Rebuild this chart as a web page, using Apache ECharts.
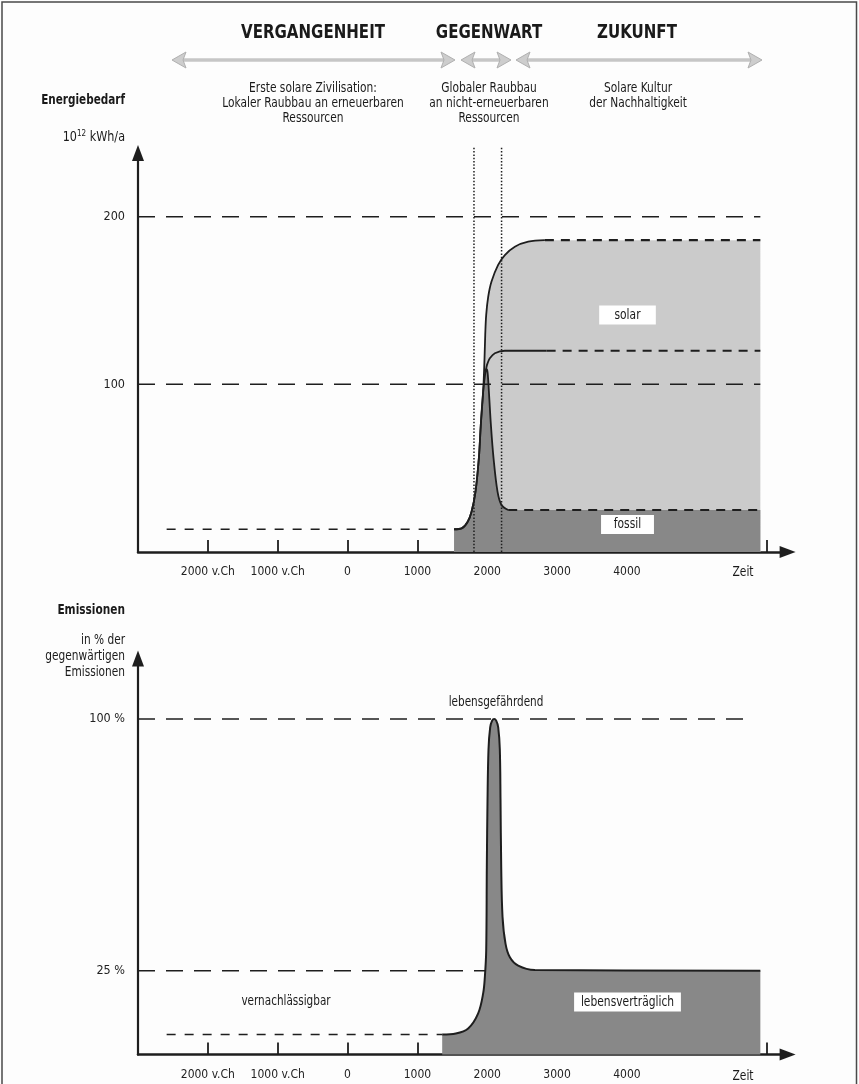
<!DOCTYPE html>
<html><head><meta charset="utf-8">
<script src="https://cdn.jsdelivr.net/npm/echarts@6/dist/echarts.min.js"></script>
<style>html,body{margin:0;padding:0;background:#fff}#c{width:859px;height:1084px}</style>
</head><body><div id="c"></div>
<script>
// ---------------- data ----------------
const xTickValues  = [-2000, -1000, 0, 1000, 2000, 3000, 4000, 5000, 6000];
const xLabelValues = [-2000, -1000, 0, 1000, 2000, 3000, 4000];
const xLabelTexts  = ['2000 v.Ch', '1000 v.Ch', '0', '1000', '2000', '3000', '4000'];
const energyLabelValues = [100, 200];
const emisLabelValues = [25, 100];

// Energiebedarf (10^12 kWh/a)
const totalYears  = [1525, 1640, 1720, 1775, 1832, 1880, 1908, 1942, 1961, 1971, 1985, 2014, 2061, 2156, 2252, 2395, 2586, 2825, 5910];
const totalValues = [13.5, 14.2, 18, 24, 36, 56, 76, 96, 115.5, 129.4, 141.4, 152.3, 161.3, 171.2, 177.1, 182.1, 185.1, 186, 186];
const fossilYears  = [1525, 1640, 1720, 1775, 1832, 1880, 1908, 1942, 1975, 1990, 2005, 2023, 2052, 2090, 2147, 2204, 2300, 5910];
const fossilValues = [13.5, 14.2, 18, 24, 36, 56, 76, 96, 107.5, 109, 107, 96, 76, 56, 36, 28, 25, 25];
const lowYears  = [1978, 1990, 2004, 2037, 2109, 2252, 2850, 5910];
const lowValues = [107.5, 110.5, 112.5, 115.5, 118.5, 120, 120, 120];
const energyGuides = [200, 100];
const energyGuideYears = [-3000, 5910];
const energyBase = 13.5;
const energyBaseYears = [-2590, 1525];
const markerYears = [1810, 2205];
const markerRange = [0, 242];

// Emissionen (% der gegenwärtigen)
const emisYears  = [1355, 1550, 1727, 1870, 1942, 1966, 1985, 1994, 2004, 2018, 2042, 2070, 2099, 2128, 2157, 2180, 2190, 2200, 2219, 2262, 2324, 2443, 2682, 5910];
const emisValues = [6, 6.3, 7.8, 12.3, 18.3, 23.2, 31, 56, 76, 91, 97.5, 99.5, 100, 99.5, 97.5, 91, 76, 56, 41, 33, 29, 26.5, 25.2, 25];
const emisGuides = [100, 25];
const emisGuideEnds = [5750, 1985];
const emisBase = 6;
const emisBaseYears = [-2590, 1355];

// ---------------- helpers ----------------
const FONT = "'Liberation Sans Narrow','Arial Narrow','DejaVu Sans Condensed','Liberation Sans',sans-serif";
const INK = '#1e1e1e';
const pairs = (xs, ys) => xs.map((x, i) => [x, ys[i]]);
const upTo = (xs, ys, lim) => pairs(xs, ys).filter(p => p[0] <= lim);
const lastSeg = (xs, ys) => [[xs[xs.length - 2], ys[ys.length - 2]], [xs[xs.length - 1], ys[ys.length - 1]]];
function ln(data, ax, style, z, extra) {
  return Object.assign({type: 'line', xAxisIndex: ax, yAxisIndex: ax, data, symbol: 'none', silent: true,
    z, lineStyle: style, animation: false}, extra || {});
}
const LONG = {color: INK, width: 1.6, type: [17, 11]};
const SHORT = {color: INK, width: 1.6, type: [9, 9]};
const PLAT = {color: INK, width: 2.2, type: [9, 7]};
const SOLID = {color: INK, width: 1.8};

function xAxis(idx) {
  return {
    type: 'value', gridIndex: idx, min: -3000, max: 6300,
    axisLine: {show: true, onZero: false, lineStyle: {color: INK, width: 2.5}, symbol: ['none', 'triangle'], symbolSize: [12, 16]},
    axisTick: {show: true, inside: true, length: 12, lineStyle: {color: INK, width: 1.8}, customValues: xTickValues},
    axisLabel: {show: true, customValues: xLabelValues, margin: 14, fontSize: 12, color: '#222', fontFamily: FONT,
      formatter: v => xLabelTexts[xLabelValues.indexOf(v)] || ''},
    splitLine: {show: false}
  };
}
function yAxis(idx, max, vals, fmt) {
  return {
    type: 'value', gridIndex: idx, min: 0, max,
    axisLine: {show: true, onZero: false, lineStyle: {color: INK, width: 2.2}, symbol: ['none', 'triangle'], symbolSize: [12, 16]},
    axisTick: {show: false},
    axisLabel: {show: true, customValues: vals, margin: 13, fontSize: 12.5, color: '#222', fontFamily: FONT, formatter: fmt},
    splitLine: {show: false}
  };
}

const series = [
  // top panel fills
  ln(pairs(totalYears, totalValues), 0, {width: 0}, 1, {smooth: 0.35, areaStyle: {color: '#cbcbcb', opacity: 1}}),
  ln(pairs(fossilYears, fossilValues), 0, {width: 0}, 2, {smooth: 0.35, areaStyle: {color: '#888888', opacity: 1}}),
  // guides
  ...energyGuides.map(v => ln(energyGuideYears.map(x => [x, v]), 0, LONG, 3)),
  ln(energyBaseYears.map(x => [x, energyBase]), 0, SHORT, 3),
  ...markerYears.map(x => ln(markerRange.map(v => [x, v]), 0, {color: INK, width: 1.5, type: [1.5, 1.8]}, 3, {clip: false})),
  // curves
  ln(upTo(totalYears, totalValues, 2825), 0, SOLID, 4, {smooth: 0.35}),
  ln(upTo(lowYears, lowValues, 2850), 0, SOLID, 4, {smooth: 0.35}),
  ln(upTo(fossilYears, fossilValues, 2300), 0, SOLID, 4, {smooth: 0.35}),
  ln(lastSeg(totalYears, totalValues), 0, PLAT, 4),
  ln(lastSeg(lowYears, lowValues), 0, PLAT, 4),
  ln(lastSeg(fossilYears, fossilValues), 0, PLAT, 4),
  // bottom panel
  ...emisGuides.map((v, i) => ln([[-3000, v], [emisGuideEnds[i], v]], 1, LONG, 1)),
  ln(emisBaseYears.map(x => [x, emisBase]), 1, SHORT, 1),
  ln(pairs(emisYears, emisValues), 1, {color: INK, width: 2}, 2, {smooth: 0.35, areaStyle: {color: '#888888', opacity: 1}})
];

function txt(text, x, y, opt, sx) {
  return {type: 'text', z: 50, x, y, scaleX: sx || 0.85, style: Object.assign({text, x: 0, y: 0, fill: '#1a1a1a', font: '14px ' + FONT,
    align: 'center', verticalAlign: 'middle'}, opt || {})};
}
function arrowHead(tipX, dir) {
  const b = tipX - dir * 14;
  return {type: 'polygon', z: 40, shape: {points: [[tipX, 60], [b, 52], [b + dir * 3, 60], [b, 68]]},
    style: {fill: '#cdcdcd', stroke: '#b0b0b0', lineWidth: 1}};
}
function dblArrow(x1, x2) {
  return [
    {type: 'line', z: 40, shape: {x1: x1 + 10, y1: 60, x2: x2 - 10, y2: 60}, style: {stroke: '#c6c6c6', lineWidth: 3.5}},
    arrowHead(x1, -1), arrowHead(x2, 1)
  ];
}
const boxed = (t, x, y, pad) => txt(t, x, y, {backgroundColor: '#fff', padding: pad});
const TITLE = {font: 'bold 19px ' + FONT};

const graphic = [
  {type: 'rect', z: 60, shape: {x: 2, y: 2, width: 854.5, height: 1110}, style: {fill: 'none', stroke: '#4a4a4a', lineWidth: 1.5}},
  txt('VERGANGENHEIT', 313, 33, TITLE, 0.88),
  txt('GEGENWART', 489, 33, TITLE, 0.88),
  txt('ZUKUNFT', 637, 33, TITLE, 0.88),
  ...dblArrow(172, 455), ...dblArrow(461, 511), ...dblArrow(516, 762),
  txt('Erste solare Zivilisation:\nLokaler Raubbau an erneuerbaren\nRessourcen', 313, 80.5, {verticalAlign: 'top', lineHeight: 15}, 0.845),
  txt('Globaler Raubbau\nan nicht-erneuerbaren\nRessourcen', 489, 80.5, {verticalAlign: 'top', lineHeight: 15}, 0.845),
  txt('Solare Kultur\nder Nachhaltigkeit', 638, 80.5, {verticalAlign: 'top', lineHeight: 15}, 0.845),
  txt('Energiebedarf', 125, 100, {align: 'right', font: 'bold 14px ' + FONT}, 0.83),
  txt('{a|10}{s|12}{a| kWh/a}', 125, 137, {align: 'right', rich: {a: {fontSize: 14, fontFamily: FONT, fill: '#1a1a1a', lineHeight: 16},
    s: {fontSize: 9, fontFamily: FONT, fill: '#1a1a1a', verticalAlign: 'top', lineHeight: 16}}}, 0.89),
  txt('Emissionen', 125, 610, {align: 'right', font: 'bold 14px ' + FONT}, 0.84),
  txt('in % der\ngegenwärtigen\nEmissionen', 125, 632, {align: 'right', verticalAlign: 'top', lineHeight: 16}, 0.84),
  txt('Zeit', 743, 572), txt('Zeit', 743, 1076),
  boxed('solar', 627.5, 315, [3, 18, 2, 18]),
  boxed('fossil', 627.5, 524.5, [3, 15, 2, 15]),
  boxed('lebensverträglich', 627.5, 1002, [3, 8, 2, 8]),
  txt('lebensgefährdend', 496, 702, null, 0.83),
  txt('vernachlässigbar', 286, 1001, null, 0.83)
];

const chart = echarts.init(document.getElementById('c'));
chart.setOption({
  backgroundColor: '#fdfdfd',
  animation: false,
  grid: [
    {left: 138, width: 649.6, top: 153, height: 398.9},
    {left: 138, width: 649.6, top: 658.6, height: 396}
  ],
  xAxis: [xAxis(0), xAxis(1)],
  yAxis: [yAxis(0, 238, energyLabelValues, v => String(v)), yAxis(1, 118, emisLabelValues, v => v + ' %')],
  series,
  graphic
});
</script></body></html>
